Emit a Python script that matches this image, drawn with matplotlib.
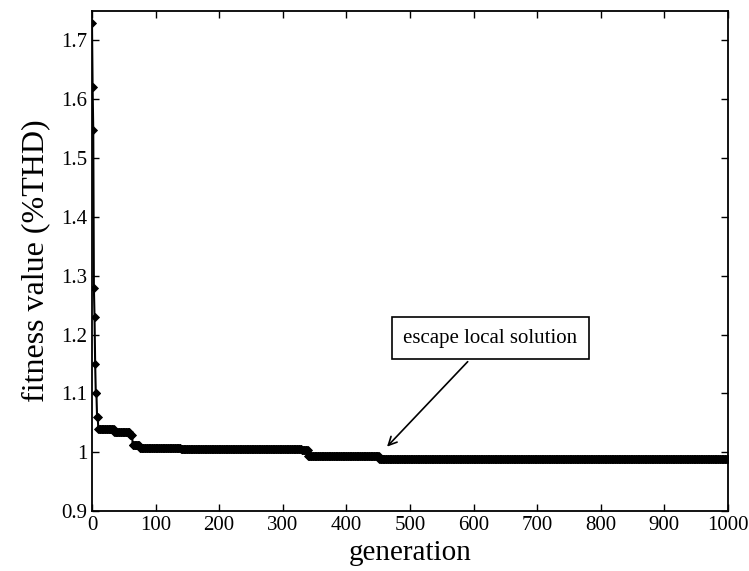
import numpy as np
import matplotlib
matplotlib.use("Agg")
import matplotlib.pyplot as plt
from matplotlib.ticker import FuncFormatter

# Best fitness per generation, stored as (start generation, value) steps
step_start = [0, 1, 2, 3, 4, 5, 6, 8, 10, 35, 60, 64, 75, 140, 330, 340, 452]
step_value = [1.73, 1.62, 1.547, 1.28, 1.23, 1.15, 1.10, 1.06, 1.04, 1.035, 1.03, 1.013, 1.008, 1.005, 1.003, 0.994, 0.989]
last_generation = 1000

x_ticks = [0, 100, 200, 300, 400, 500, 600, 700, 800, 900, 1000]
y_ticks = [0.9, 1.0, 1.1, 1.2, 1.3, 1.4, 1.5, 1.6, 1.7]

annot_text = "escape local solution"
annot_point = (461, 1.006)
annot_text_pos = (626, 1.194)

# expand the steps to one value per generation
gens = np.arange(0, last_generation + 1)
ends = step_start[1:] + [last_generation + 1]
fitness = np.concatenate([np.full(e - s, v) for s, e, v in zip(step_start, ends, step_value)])

plt.rcParams["font.family"] = ["Liberation Serif", "DejaVu Serif"]

fig = plt.figure(figsize=(7.49, 5.71), dpi=100)
ax = fig.add_axes([0.1228, 0.105, 0.849, 0.8757])

ax.plot(gens, fitness, color="black", linewidth=1.5, marker="D", markersize=4,
        markeredgewidth=0.6)

ax.set_xlim(0, 1000)
ax.set_ylim(0.9, 1.75)
ax.set_xticks(x_ticks)
ax.set_yticks(y_ticks)
ax.yaxis.set_major_formatter(FuncFormatter(lambda v, p: f"{v:g}"))
ax.tick_params(direction="in", top=True, right=True, labelsize=15, length=5, width=1)
for s in ax.spines.values():
    s.set_linewidth(1.3)

ax.set_xlabel("generation", fontsize=21, labelpad=4)
ax.set_ylabel("fitness value (%THD)", fontsize=23, labelpad=8)

ax.annotate(annot_text, xy=annot_point, xytext=annot_text_pos,
            fontsize=15, ha="center", va="center",
            bbox=dict(boxstyle="square,pad=0.55", fc="white", ec="black", lw=1.2),
            arrowprops=dict(arrowstyle="->", color="black", lw=1.2))

fig.savefig("out.png", dpi=100)
